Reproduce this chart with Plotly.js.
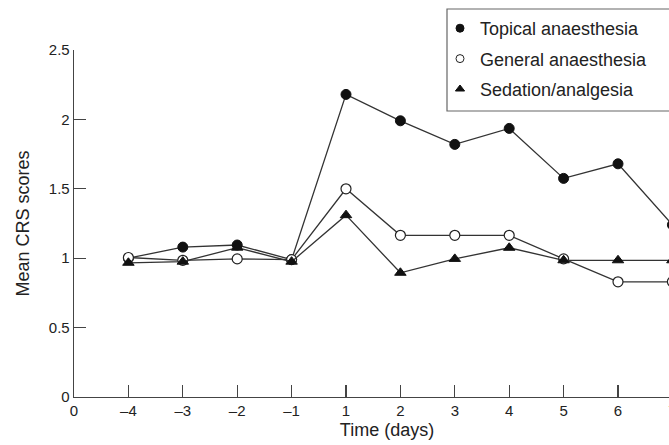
<!DOCTYPE html>
<html>
<head>
<meta charset="utf-8">
<script src="https://cdn.plot.ly/plotly-3.0.1.min.js"></script>
<style>
html,body{margin:0;padding:0;overflow:hidden;background:#fff;}
#chart{width:700px;height:445px;}
</style>
</head>
<body>
<div id="chart"></div>
<script>
const axisCategories = ["0", "\u20134", "\u20133", "\u20132", "\u20131", "1", "2", "3", "4", "5", "6", "7"];
const days = ["\u20134", "\u20133", "\u20132", "\u20131", "1", "2", "3", "4", "5", "6", "7"];
const topical = [1.00, 1.08, 1.095, 0.99, 2.18, 1.99, 1.82, 1.935, 1.575, 1.68, 1.24];
const general = [1.005, 0.985, 0.995, 0.99, 1.50, 1.165, 1.165, 1.165, 0.995, 0.83, 0.83];
const sedation = [0.967, 0.975, 1.076, 0.975, 1.31, 0.895, 0.995, 1.075, 0.985, 0.985, 0.985];
const seriesNames = ["Topical anaesthesia", "General anaesthesia", "Sedation/analgesia"];

const lineStyle = {color: "#333", width: 1.3};
const font = "Liberation Sans, Arial, sans-serif";

const traces = [
  {x: days, y: topical, mode: "lines+markers", showlegend: false, line: lineStyle,
   marker: {symbol: "circle", size: 10, color: "#111", line: {color: "#111", width: 1}}},
  {x: days, y: general, mode: "lines+markers", showlegend: false, line: lineStyle,
   marker: {symbol: "circle", size: 10, color: "#fff", line: {color: "#222", width: 1.2}}},
  {x: days, y: sedation, mode: "lines+markers", showlegend: false, line: lineStyle,
   marker: {symbol: "triangle-up", size: 10, color: "#111", line: {color: "#111", width: 1}}},
  {x: [null], y: [null], mode: "markers", name: seriesNames[0], legendgroup: "a",
   marker: {symbol: "circle", size: 8, color: "#111", line: {color: "#111", width: 1}}},
  {x: [null], y: [null], mode: "markers", name: seriesNames[1], legendgroup: "b",
   marker: {symbol: "circle", size: 8, color: "#fff", line: {color: "#222", width: 1}}},
  {x: [null], y: [null], mode: "markers", name: seriesNames[2], legendgroup: "c",
   marker: {symbol: "triangle-up", size: 8, color: "#111", line: {color: "#111", width: 1}}}
];

const W = 700, H = 445, L = 74, T = 50, B = 48, R = 0;
const pw = W - L - R, ph = H - T - B;
const px = v => (v - L) / pw;
const py = v => (H - B - v) / ph;

const layout = {
  width: W, height: H,
  margin: {l: L, r: R, t: T, b: B},
  paper_bgcolor: "#fff", plot_bgcolor: "#fff",
  font: {family: font, color: "#222", size: 15},
  showlegend: true,
  legend: {
    x: px(440), y: py(10), xanchor: "left", yanchor: "top",
    bgcolor: "rgba(0,0,0,0)", borderwidth: 0,
    font: {family: font, size: 18, color: "#222"},
    tracegroupgap: 4
  },
  xaxis: {
    type: "category", categoryorder: "array", categoryarray: axisCategories,
    range: [0, (W - R - L) / 54.4],
    showline: true, linecolor: "#444", linewidth: 1.3,
    ticks: "inside", ticklen: 12, tickcolor: "#444", tickwidth: 1.2,
    showgrid: false, zeroline: false,
    tickfont: {family: font, size: 15, color: "#222"},
    title: {text: "Time (days)", font: {family: font, size: 18, color: "#222"}, standoff: 5}
  },
  yaxis: {
    range: [0, 2.5], dtick: 0.5, tick0: 0,
    showline: true, linecolor: "#444", linewidth: 1.3,
    ticks: "inside", ticklen: 12, tickcolor: "#444", tickwidth: 1.2,
    showgrid: false, zeroline: false,
    tickfont: {family: font, size: 15, color: "#222"},
    title: {text: "Mean CRS scores", font: {family: font, size: 18, color: "#222"}, standoff: 14}
  },
  shapes: [{
    type: "rect", xref: "paper", yref: "paper",
    x0: px(447), x1: px(760), y0: py(111), y1: py(9),
    line: {color: "#666", width: 1.2}, fillcolor: "rgba(0,0,0,0)", layer: "below"
  }]
};

Plotly.newPlot("chart", traces, layout, {displayModeBar: false, staticPlot: true});
</script>
</body>
</html>
